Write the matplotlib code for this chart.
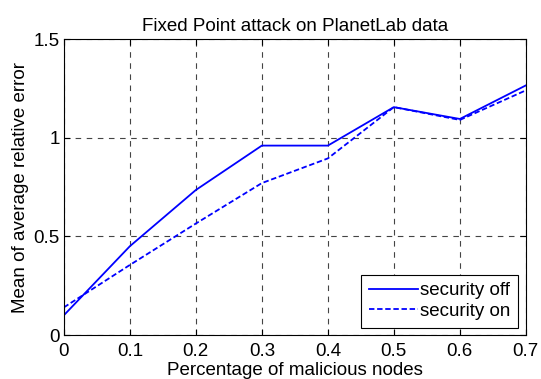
import matplotlib
matplotlib.use("Agg")
import matplotlib.pyplot as plt

x = [0, 0.1, 0.2, 0.3, 0.4, 0.5, 0.6, 0.7]
security_off = [0.10, 0.45, 0.735, 0.96, 0.96, 1.155, 1.095, 1.265]
security_on = [0.14, 0.355, 0.565, 0.77, 0.895, 1.155, 1.09, 1.24]
xticks = [0, 0.1, 0.2, 0.3, 0.4, 0.5, 0.6, 0.7]
yticks = [0, 0.5, 1, 1.5]
yticklabels = ["0", "0.5", "1", "1.5"]

FS = 13.5
plt.rcParams['font.family'] = ['Liberation Sans', 'DejaVu Sans']
fig = plt.figure(figsize=(5.41, 3.79), dpi=100)
ax = fig.add_axes([0.118, 0.116, 0.854, 0.781])
ax.plot(x, security_off, color='#0000ff', lw=1.3, label='security off')
ax.plot(x, security_on, color='#0000ff', lw=1.3, ls=(0, (3, 1.5)), label='security on')
ax.set_xlim(0, 0.7)
ax.set_ylim(0, 1.5)
ax.set_xticks(xticks)
ax.set_xticklabels([f"{v:g}" for v in xticks])
ax.set_yticks(yticks)
ax.set_yticklabels(yticklabels)
ax.tick_params(direction='in', labelsize=FS, length=4, top=True, right=True, pad=3)
ax.tick_params(axis='x', pad=5.5)
ax.grid(True, color='#444444', ls=(0, (5, 5)), lw=0.8)
ax.set_title('Fixed Point attack on PlanetLab data', fontsize=FS, pad=6)
ax.set_xlabel('Percentage of malicious nodes', fontsize=FS, labelpad=2)
ax.set_ylabel('Mean of average relative error', fontsize=FS, labelpad=3)
leg = ax.legend(loc='lower right', fontsize=FS, fancybox=False, framealpha=1,
                edgecolor='black', borderaxespad=0.4, handlelength=2.6,
                borderpad=0.4, labelspacing=0.2, handletextpad=0.15)
leg.get_frame().set_linewidth(0.8)
for s in ax.spines.values():
    s.set_linewidth(0.8)
fig.savefig('out.png', dpi=100)
